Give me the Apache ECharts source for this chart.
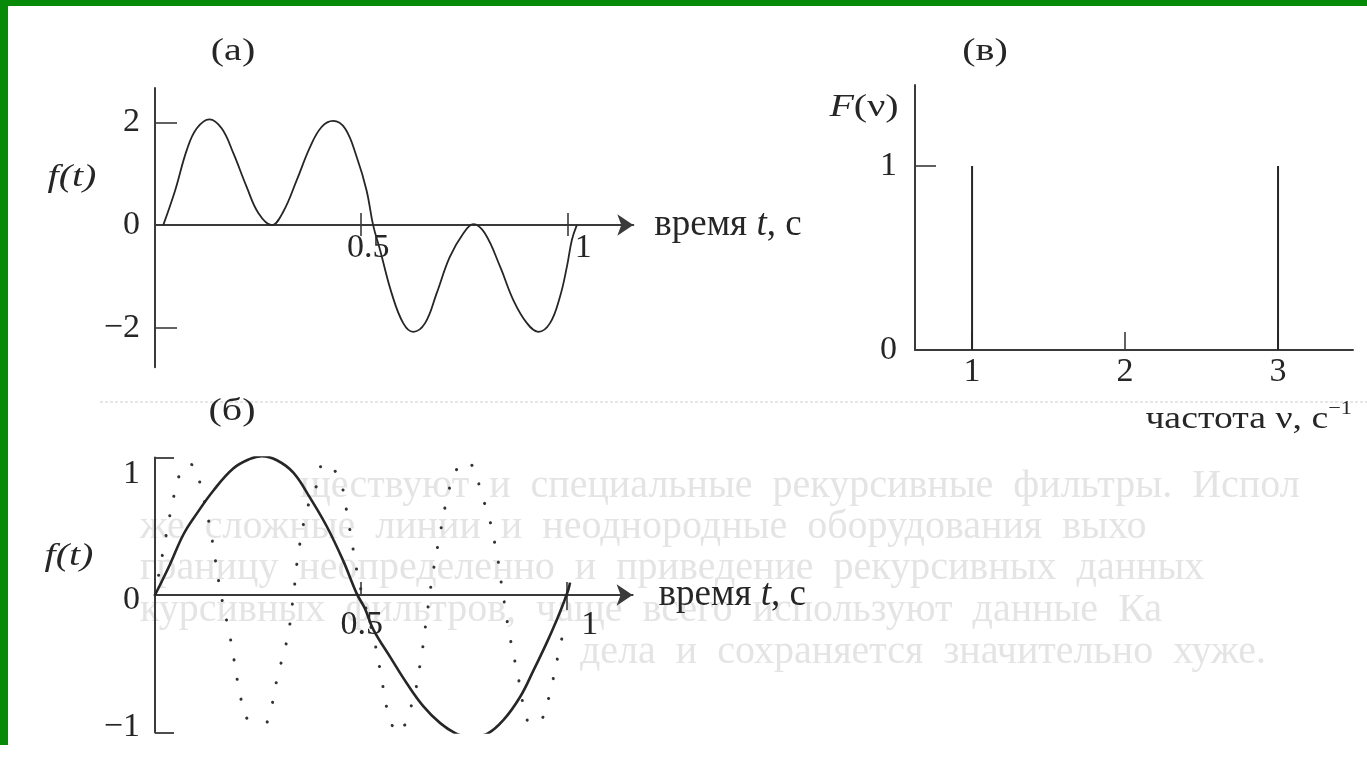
<!DOCTYPE html>
<html>
<head>
<meta charset="utf-8">
<script src="https://cdn.jsdelivr.net/npm/echarts@6/dist/echarts.min.js"></script>
<style>
  html, body { margin: 0; padding: 0; background: #ffffff; }
  #chart { width: 1367px; height: 765px; }
</style>
</head>
<body>
<div id="chart"></div>
<script>
// (а) signal f(t): sum of two sinusoids, points [t, f]
const sumT = [0.02, 0.049, 0.077, 0.101, 0.132, 0.162, 0.19, 0.222, 0.251, 0.283, 0.311, 0.344, 0.376, 0.404, 0.432, 0.461, 0.489, 0.513, 0.529, 0.546, 0.574, 0.602, 0.626, 0.655, 0.683, 0.715, 0.748, 0.772, 0.8, 0.837, 0.869, 0.902, 0.93, 0.958, 0.982, 0.999, 1.011, 1.023];
const sumF = [0, 0.68, 1.46, 1.88, 2.06, 1.88, 1.40, 0.75, 0.23, 0, 0.26, 0.88, 1.52, 1.91, 2.03, 1.88, 1.33, 0.68, 0, -0.49, -1.33, -1.91, -2.08, -1.91, -1.33, -0.62, -0.16, 0.02, -0.16, -0.81, -1.46, -1.91, -2.08, -1.91, -1.40, -0.81, -0.29, 0];

// (б) fundamental component (solid)
const baseT = [0, 0.036, 0.069, 0.101, 0.142, 0.19, 0.231, 0.259, 0.296, 0.336, 0.376, 0.417, 0.457, 0.49, 0.51, 0.53, 0.571, 0.611, 0.652, 0.692, 0.733, 0.765, 0.806, 0.846, 0.887, 0.919, 0.951, 0.976, 0.992, 1.004, 1.008];
const baseF = [0, 0.22, 0.44, 0.59, 0.76, 0.92, 0.99, 1.01, 0.98, 0.89, 0.71, 0.50, 0.25, 0.01, -0.10, -0.25, -0.45, -0.64, -0.81, -0.93, -1.01, -1.03, -1.01, -0.91, -0.74, -0.55, -0.35, -0.18, -0.06, 0.04, 0.09];

// (б) third harmonic (dotted)
const harmT = [0, 0.028, 0.049, 0.065, 0.08, 0.095, 0.111, 0.134, 0.16, 0.182, 0.209, 0.225, 0.25, 0.274, 0.298, 0.323, 0.337, 0.35, 0.372, 0.393, 0.41, 0.43, 0.453, 0.466, 0.486, 0.496, 0.534, 0.551, 0.565, 0.59, 0.621, 0.643, 0.659, 0.673, 0.692, 0.713, 0.73, 0.755, 0.8, 0.827, 0.843, 0.86, 0.881, 0.903, 0.925, 0.941, 0.957, 0.979, 0.99];
const harmF = [0, 0.45, 0.76, 0.91, 0.95, 0.94, 0.79, 0.48, 0.01, -0.30, -0.76, -0.91, -1.03, -0.91, -0.59, -0.29, 0.02, 0.34, 0.65, 0.80, 0.96, 0.93, 0.80, 0.60, 0.25, 0.09, -0.35, -0.62, -0.84, -1.0, -0.82, -0.52, -0.18, 0.12, 0.44, 0.75, 0.90, 0.97, 0.67, 0.35, 0.05, -0.27, -0.58, -0.90, -1.03, -0.90, -0.74, -0.44, -0.29];

// (в) amplitude spectrum
const specNu = [1, 3];
const specAmp = [1, 1];

// tick values
const ticksA_x = [0.5, 1];
const ticksA_y = [-2, 0, 2];
const ticksB_x = [0.5, 1];
const ticksB_y = [-1, 0, 1];
const ticksC_x = [1, 2, 3];
const ticksC_y = [0, 1];

const FONT = '"Liberation Serif", "Times New Roman", serif';
const INK = '#262626';
const AXIS = '#3a3a3a';
const GREEN = '#078a07';
const FAINT = '#e4e4e4';
const T_MAX = 1.16;

const pairs = (xs, ys) => xs.map((x, i) => [x, ys[i]]);
const minus = v => (v < 0 ? '\u2212' + Math.abs(v) : String(v));

const labelBase = { fontSize: 34, fontFamily: FONT, color: INK };
const nameRich = {
  a: { fontSize: 37, fontFamily: FONT, color: INK },
  b: { fontSize: 37, fontFamily: FONT, color: INK, fontStyle: 'italic' }
};
const tickLine = { color: AXIS, width: 1.6 };

const grids = [];
const xAxes = [];
const yAxes = [];
function addGrid(g) {
  grids.push(Object.assign({ outerBoundsMode: 'none' }, g));
  return grids.length - 1;
}
const hiddenX = gi => ({ gridIndex: gi, type: 'value', min: 0, max: T_MAX, show: false });
const hiddenY = gi => ({ gridIndex: gi, type: 'value', min: 0, max: 1, show: false });

// A time-domain panel: full grid for the curves and f-axis, plus two thin grids
// whose shared edge is the t-axis (f = 0), so ticks can cross it.
function timePanel(c) {
  const full = addGrid({ left: c.left, top: c.top, width: c.width, height: c.bottom - c.top });
  const upper = addGrid({ left: c.left, top: c.top, width: c.width, height: c.zero - c.top });
  const lower = addGrid({ left: c.left, top: c.zero, width: c.width, height: c.bottom - c.zero });

  const xi = xAxes.length;
  xAxes.push(hiddenX(full));
  xAxes.push({
    gridIndex: upper, type: 'value', min: 0, max: T_MAX, position: 'bottom',
    axisLine: { onZero: false, lineStyle: { color: AXIS, width: 2 }, symbol: ['none', 'arrow'], symbolSize: [16, 16] },
    axisTick: { show: true, inside: true, length: c.tickUp, customValues: c.ticksX, lineStyle: tickLine },
    axisLabel: Object.assign({ customValues: c.ticksX, margin: c.labelMargin,
      formatter: v => (v === 1 ? '{r|1}' : '{h|0.5}'), rich: c.labelRich }, labelBase),
    splitLine: { show: false },
    name: '{a|время }{b|t}{a|, с}', nameLocation: 'end', nameGap: c.nameGap,
    nameTextStyle: { rich: nameRich, align: 'left', verticalAlign: 'middle' }
  });
  xAxes.push({
    gridIndex: lower, type: 'value', min: 0, max: T_MAX, position: 'top',
    axisLine: { show: false, onZero: false },
    axisTick: { show: true, inside: true, length: c.tickDown, customValues: c.ticksDown, lineStyle: tickLine },
    axisLabel: { show: false }, splitLine: { show: false }
  });

  const yi = yAxes.length;
  yAxes.push(Object.assign({ gridIndex: full, type: 'value', splitLine: { show: false } }, c.yAxis));
  yAxes.push(hiddenY(upper));
  yAxes.push(hiddenY(lower));
  return { xi, yi };
}

const pa = timePanel({
  left: 155, width: 478.3, top: 88, zero: 225, bottom: 367.3,
  ticksX: ticksA_x, ticksDown: ticksA_x, tickUp: 12, tickDown: 11,
  labelMargin: 6, nameGap: 21,
  labelRich: { h: { padding: [0, 0, 0, 14] }, r: { padding: [0, 0, 0, 32] } },
  yAxis: {
    min: -2.77, max: 2.67,
    axisLine: { show: true, onZero: false, lineStyle: { color: AXIS, width: 2 } },
    axisTick: { show: true, inside: true, length: 22, customValues: [-2, 2], lineStyle: tickLine },
    axisLabel: Object.assign({ customValues: ticksA_y, margin: 15, formatter: minus }, labelBase)
  }
});

const pb = timePanel({
  left: 155, width: 477.6, top: 457.5, zero: 595, bottom: 732.5,
  ticksX: ticksB_x, ticksDown: [1], tickUp: 13, tickDown: 15,
  labelMargin: 13, nameGap: 26,
  labelRich: { h: { padding: [0, 0, 0, 2] }, r: { padding: [0, 0, 0, 46] } },
  yAxis: {
    min: -1, max: 1,
    axisLine: { show: true, onZero: false, lineStyle: { color: AXIS, width: 2 } },
    axisTick: { show: true, inside: true, length: 19, customValues: [-1, 1], lineStyle: { color: AXIS, width: 1.8 } },
    axisLabel: Object.assign({
      customValues: ticksB_y, margin: 15,
      formatter: v => (v === 1 ? '{p|1}' : v === 0 ? '{z|0}' : '{m|' + minus(v) + '}'),
      rich: { p: { padding: [34, 0, 0, 0] }, z: { padding: [10, 0, 0, 0] }, m: { padding: [0, 0, 10, 0] } }
    }, labelBase)
  }
});

// (в) spectrum panel
const gc = addGrid({ left: 915, top: 85, width: 438, height: 265 });
const xc = xAxes.length;
xAxes.push({
  gridIndex: gc, type: 'value', min: 0.627, max: 3.49,
  axisLine: { onZero: false, lineStyle: { color: AXIS, width: 2 } },
  axisTick: { show: true, inside: true, length: 18, customValues: ticksC_x, lineStyle: tickLine },
  axisLabel: Object.assign({ customValues: ticksC_x, margin: 5 }, labelBase),
  splitLine: { show: false }
});
const yc = yAxes.length;
yAxes.push({
  gridIndex: gc, type: 'value', min: 0, max: 1.44,
  axisLine: { show: true, onZero: false, lineStyle: { color: AXIS, width: 2 } },
  axisTick: { show: true, inside: true, length: 21, customValues: [1], lineStyle: tickLine },
  axisLabel: Object.assign({ customValues: ticksC_y, margin: 18 }, labelBase),
  splitLine: { show: false }
});

const caption = (x, y, text, extra) => ({
  type: 'text', x, y, scaleX: 1.25,
  style: Object.assign({ text, fontSize: 32, fontFamily: FONT, fill: INK, align: 'center', verticalAlign: 'middle' }, extra || {})
});
const faint = (x, y, text) => ({
  type: 'text', x, y, z: -1,
  style: { text, fontSize: 40, fontFamily: FONT, fill: FAINT, verticalAlign: 'middle' }
});

const option = {
  backgroundColor: '#ffffff',
  animation: false,
  grid: grids,
  xAxis: xAxes,
  yAxis: yAxes,
  series: [
    {
      type: 'line', xAxisIndex: pa.xi, yAxisIndex: pa.yi, data: pairs(sumT, sumF),
      showSymbol: false, smooth: 0.4, lineStyle: { color: INK, width: 1.8 }, z: 3
    },
    {
      type: 'line', xAxisIndex: pb.xi, yAxisIndex: pb.yi, data: pairs(harmT, harmF),
      showSymbol: false, smooth: 0.45,
      lineStyle: { color: '#333333', width: 3, type: [0.1, 20], cap: 'round' }, z: 3
    },
    {
      type: 'line', xAxisIndex: pb.xi, yAxisIndex: pb.yi, data: pairs(baseT, baseF),
      showSymbol: false, smooth: 0.4, lineStyle: { color: INK, width: 2.6 }, z: 4
    },
    {
      type: 'bar', xAxisIndex: xc, yAxisIndex: yc, data: pairs(specNu, specAmp),
      barWidth: 2, itemStyle: { color: INK }, z: 3
    }
  ],
  graphic: [
    // faint print-through from the other side of the sheet
    { type: 'line', z: -1, shape: { x1: 100, y1: 402, x2: 1367, y2: 402 },
      style: { stroke: '#e6e6e6', lineWidth: 2, lineDash: [3, 2] } },
    faint(300, 486, 'ществуют  и  специальные  рекурсивные  фильтры.  Испол'),
    faint(140, 527, 'же  сложные  линии  и  неоднородные  оборудования  выхо'),
    faint(140, 568, 'границу  неопределенно  и  приведение  рекурсивных  данных'),
    faint(140, 610, 'курсивных  фильтров,  чаще  всего  используют  данные  Ка'),
    faint(580, 652, 'дела  и  сохраняется  значительно  хуже.'),

    // page frame
    { type: 'rect', z: 100, shape: { x: 0, y: 0, width: 1367, height: 6 }, style: { fill: GREEN } },
    { type: 'rect', z: 100, shape: { x: 0, y: 0, width: 8, height: 745 }, style: { fill: GREEN } },

    // panel captions and function names
    caption(233, 52, '(а)'),
    caption(985, 52, '(в)'),
    caption(232, 412, '(б)'),
    caption(72, 178, 'f(t)', { fontStyle: 'italic' }),
    caption(69, 557, 'f(t)', { fontStyle: 'italic' }),
    caption(864, 108, '{i|F}{n|(ν)}', {
      rich: { i: { fontSize: 32, fontStyle: 'italic', fontFamily: FONT, fill: INK }, n: { fontSize: 32, fontFamily: FONT, fill: INK } }
    }),
    {
      type: 'text', x: 1352, y: 420, scaleX: 1.18,
      style: {
        text: '{n|частота ν, с}{s|−1}', align: 'right', verticalAlign: 'middle',
        rich: { n: { fontSize: 32, fontFamily: FONT, fill: INK }, s: { fontSize: 19, fontFamily: FONT, fill: INK, padding: [0, 0, 22, 0] } }
      }
    }
  ]
};

const chart = echarts.init(document.getElementById('chart'), null, { renderer: 'canvas' });
chart.setOption(option);
</script>
</body>
</html>
